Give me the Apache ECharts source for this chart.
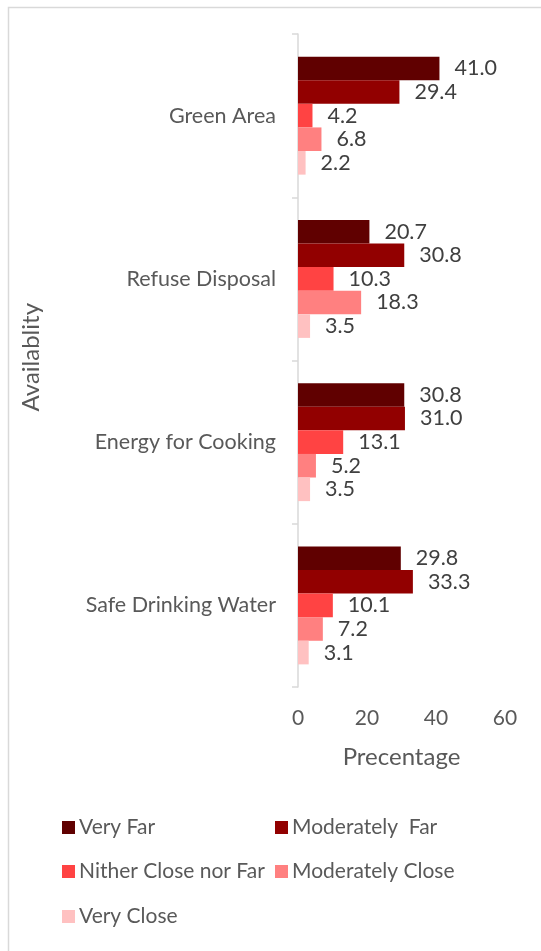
<!DOCTYPE html>
<html>
<head>
<meta charset="utf-8">
<script src="https://cdn.jsdelivr.net/npm/echarts@6/dist/echarts.min.js"></script>
<style>
  html, body { margin: 0; padding: 0; background: #fff; }
  #chart { width: 541px; height: 951px; }
</style>
</head>
<body>
<div id="chart"></div>
<script>
// Facilities by distance category
const categories = ['Green Area', 'Refuse Disposal', 'Energy for Cooking', 'Safe Drinking Water'];
const seriesNames = ['Very Far', 'Moderately  Far', 'Nither Close nor Far', 'Moderately Close', 'Very Close'];
const veryFar = [41.0, 20.7, 30.8, 29.8];
const moderatelyFar = [29.4, 30.8, 31.0, 33.3];
const neither = [4.2, 10.3, 13.1, 10.1];
const moderatelyClose = [6.8, 18.3, 5.2, 7.2];
const veryClose = [2.2, 3.5, 3.5, 3.1];
const xTicks = [0, 20, 40, 60];

const seriesValues = [veryFar, moderatelyFar, neither, moderatelyClose, veryClose];
const colors = ['#600000', '#920000', '#ff4343', '#ff8080', '#ffc1c1'];
const FONT = 'Lato, "Open Sans", sans-serif';

const chart = echarts.init(document.getElementById('chart'));

// one legend per item so the two-column grid can be laid out exactly
const legendPos = [
  { left: 62, top: 817 }, { left: 275, top: 817 },
  { left: 62, top: 861 }, { left: 275, top: 861 },
  { left: 62, top: 906 }
];

const option = {
  animation: false,
  color: colors,
  graphic: [
    {
      type: 'rect', left: 6, top: 5, silent: true,
      shape: { width: 620, height: 1000 },
      style: { fill: 'none', stroke: '#d9d9d9', lineWidth: 1.5 }
    },
    {
      type: 'text', left: 19, top: 303, rotation: Math.PI / 2,
      style: { text: 'Availablity', fill: '#595959', font: '24px ' + FONT }
    }
  ],
  legend: legendPos.map((p, i) => ({
    left: p.left, top: p.top,
    data: [seriesNames[i]],
    itemWidth: 13, itemHeight: 13, itemGap: 0,
    icon: 'rect',
    textStyle: { color: '#595959', fontSize: 21, fontFamily: FONT, padding: [0, 0, 0, -1] },
    padding: 0
  })),
  grid: { left: 298, right: 36, top: 34, bottom: 264, containLabel: false },
  xAxis: {
    type: 'value', min: xTicks[0], max: xTicks[xTicks.length - 1], interval: 20,
    name: 'Precentage', nameLocation: 'middle', nameGap: 58,
    nameTextStyle: { color: '#595959', fontSize: 24, fontFamily: FONT },
    axisLine: { show: false }, axisTick: { show: false }, splitLine: { show: false },
    axisLabel: { color: '#595959', fontSize: 21, fontFamily: FONT, margin: 21 }
  },
  yAxis: {
    type: 'category', data: categories, inverse: true,
    axisLine: { show: true, lineStyle: { color: '#d9d9d9', width: 1.5 } },
    axisTick: { show: true, length: 6, lineStyle: { color: '#d9d9d9', width: 1.5 } },
    axisLabel: { color: '#595959', fontSize: 21.5, fontFamily: FONT, margin: 22 }
  },
  series: seriesValues.map((vals, i) => ({
    name: seriesNames[i],
    type: 'bar',
    data: vals,
    barWidth: 23.6,
    barGap: '0%',
    label: {
      show: true, position: 'right', distance: 15,
      formatter: p => p.value.toFixed(1),
      color: '#404040', fontSize: 21.5, fontFamily: FONT
    }
  }))
};

chart.setOption(option);
</script>
</body>
</html>
